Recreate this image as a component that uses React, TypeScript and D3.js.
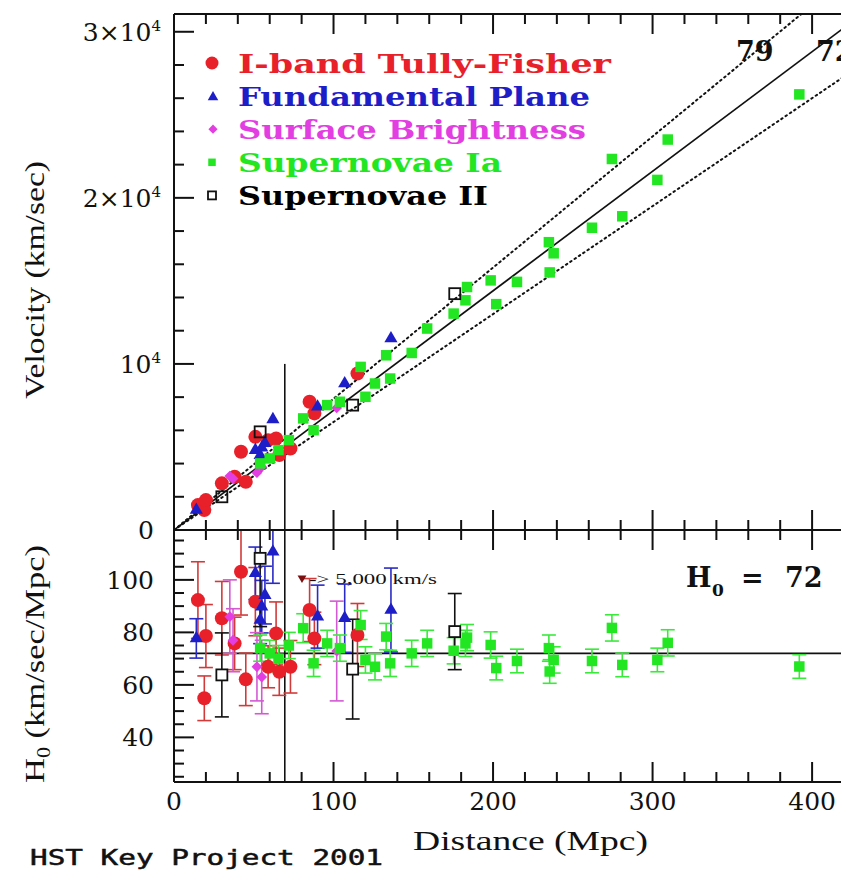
import React from "react";
import * as d3 from "d3";

// ---------------- data ----------------
// I-band Tully-Fisher
const tfDist = [15, 19, 20, 30, 38, 42, 45, 51, 59, 64, 66, 73, 85, 88, 115];
const tfVel = [1500, 1200, 1800, 2810, 3210, 4710, 2900, 5610, 5410, 5510, 4510, 4910, 7720, 7020, 9420];
const tfH0 = [92.3, 54.9, 78.6, 85.4, 75.8, 103.1, 62.1, 91.7, 66.9, 79.6, 65, 66.9, 88.5, 77.7, 79];
const tfErr = [14.6, 8.5, 12, 14, 10, 16.5, 10, 13, 8, 12, 9, 10, 12, 10, 12];

// Fundamental Plane
const fpDist = [14, 51, 54, 55, 57, 62, 90, 107, 136];
const fpVel = [1200, 4810, 4500, 4950, 5230, 6660, 7420, 8820, 11530];
const fpH0 = [77.7, 102.5, 84.7, 89.8, 94.2, 110.7, 86, 85.4, 88.5];
const fpErr = [7.5, 10, 9, 10, 11, 12, 12, 13, 16];

// Surface Brightness
const sbfDist = [35, 37, 52, 55, 102];
const sbfVel = [3250, 3100, 3450, 3800, 7350];
const sbfH0 = [86, 77, 66.9, 63, 72.9];
const sbfErr = [14, 12, 13, 14, 19];

// Supernovae Ia
const snDist = [54, 60, 65.5, 72, 81, 87.5, 96, 104, 117, 120, 126, 133, 135.5, 149, 158.7, 175.3, 182.7, 183.7, 198.5, 202, 215, 235, 238, 235.5, 262, 274.5, 281, 303, 309.5, 392];
const snVel = [4010, 4310, 4810, 5410, 6720, 6010, 7520, 7720, 9820, 8020, 8820, 10520, 9120, 10660, 12130, 13030, 13830, 14630, 15030, 13600, 14940, 17330, 16660, 15510, 18200, 22340, 18890, 21080, 23510, 26230];
const snH0 = [74, 72, 70, 75, 81.6, 68.2, 75.8, 74, 82.8, 69.5, 66.9, 78.4, 68.2, 72, 75.8, 73, 75.8, 78, 75.2, 66.4, 69.1, 74, 69.5, 65.1, 69.1, 81.7, 67.6, 69.5, 76, 67];
const snErr = [5, 5, 5, 5, 5.5, 5, 5, 5, 5.5, 5, 5, 5, 5, 5, 5, 5, 5, 5, 5, 4.5, 4.5, 5, 5, 4.5, 4.5, 5, 4.5, 4.5, 5, 4.5];

// Supernovae II
const sn2Dist = [30, 54, 112, 176];
const sn2Vel = [2000, 5910, 7520, 14230];
const sn2H0 = [63.8, 108.2, 66, 80.3];
const sn2Err = [16, 26, 19, 14.5];

// Hubble-law lines
const hubbleFit = 72;
const hubbleBand = [79, 65];
const velocityCut = 5000;

// tick labels
const xTickLabels = ["0", "100", "200", "300", "400"];
const xTickValues = [0, 100, 200, 300, 400];
const vTickValues = [30000, 20000, 10000, 0];
const vTickMant = ["3×10", "2×10", "10", "0"];
const hTickValues = [100, 80, 60, 40];

const legendLabels = [
  "I-band Tully-Fisher",
  "Fundamental Plane",
  "Surface Brightness",
  "Supernovae Ia",
  "Supernovae II",
];

const RED = "#e8202a";
const RED_BAR = "#d23a3a";
const BLUE = "#1e1ec8";
const BLUE_BAR = "#2a2ac4";
const MAG = "#e23ee2";
const MAG_BAR = "#d35ad3";
const GREEN = "#22e622";
const GREEN_BAR = "#3aea3a";

const SERIF = "'DejaVu Serif', serif";
const TSERIF = "'Liberation Serif', 'Times New Roman', serif";

export default function App() {
  const xS = d3.scaleLinear().domain([0, 420]).range([174, 844]);
  const yV = d3.scaleLinear().domain([0, 31070]).range([530, 14]);
  const yH = d3.scaleLinear().domain([23, 119]).range([782, 530]);

  const tri = d3.symbol().type(d3.symbolTriangle).size(75)()!;
  const triL = d3.symbol().type(d3.symbolTriangle).size(48)()!;
  const dia = d3.symbol().type(d3.symbolSquare).size(58)()!;
  const diaL = d3.symbol().type(d3.symbolSquare).size(42)()!;
  const downTri = d3.symbol().type(d3.symbolTriangle).size(34)()!;

  const xTicks = d3.range(0, 421, 20);
  const vTicks = d3.range(0, 31001, 2000);
  const hTicks = d3.range(25, 119, 5);

  const sq = (cx: number, cy: number, s: number, fill: string, stroke?: string, key?: string) => (
    <rect key={key} x={cx - s / 2} y={cy - s / 2} width={s} height={s} fill={fill}
      stroke={stroke || "none"} strokeWidth={stroke ? 1.8 : 0} />
  );

  const errBars = (dist: number[], h0: number[], err: number[], color: string, k: string) =>
    dist.map((d, i) => {
      const x = xS(d);
      const y1 = yH(h0[i] + err[i]);
      const y2 = yH(h0[i] - err[i]);
      return (
        <g key={k + i} stroke={color} strokeWidth={1.6}>
          <line x1={x} x2={x} y1={y1} y2={y2} />
          <line x1={x - 7} x2={x + 7} y1={y1} y2={y1} />
          <line x1={x - 7} x2={x + 7} y1={y2} y2={y2} />
        </g>
      );
    });

  const lineEnd = (h: number) => Math.min(420, 31070 / h);

  const hubbleLine = (h: number, dashed: boolean) => {
    const dEnd = lineEnd(h);
    const path = d3.line<[number, number]>().x((p) => xS(p[0])).y((p) => yV(p[1]))([
      [0, 0],
      [dEnd, dEnd * h],
    ])!;
    return (
      <path key={"h" + h} d={path} fill="none" stroke="#111" strokeWidth={dashed ? 2 : 1.7}
        strokeDasharray={dashed ? "1.6,3.6" : undefined} strokeLinecap={dashed ? "round" : "butt"} />
    );
  };

  const legendY = [72.5, 105.6, 138.7, 171.8, 204.9];
  const legendColors = [RED, BLUE, MAG, GREEN, "#000"];
  const legendLens = [373, 352, 348, 264, 250];

  const dCut = velocityCut / hubbleFit;

  return (
    <svg width={841} height={870} style={{ position: "absolute", left: 0, top: 0, display: "block", background: "#fff" }}>
      <defs>
        <clipPath id="cu"><rect x={174} y={14} width={670} height={516} /></clipPath>
        <clipPath id="cl"><rect x={174} y={530} width={670} height={252} /></clipPath>
      </defs>
      <rect x={0} y={0} width={841} height={870} fill="#fff" />

      {/* ---------- upper panel ---------- */}
      <g clipPath="url(#cu)">
        {hubbleLine(hubbleFit, false)}
        {hubbleBand.map((h) => hubbleLine(h, true))}
        <line x1={xS(dCut)} x2={xS(dCut)} y1={yV(10000)} y2={530} stroke="#111" strokeWidth={1.6} />
        {tfDist.map((d, i) => <circle key={"tf" + i} cx={xS(d)} cy={yV(tfVel[i])} r={7} fill={RED} />)}
        {fpDist.map((d, i) => <path key={"fp" + i} d={tri} transform={`translate(${xS(d)},${yV(fpVel[i])})`} fill={BLUE} />)}
        {sbfDist.map((d, i) => <path key={"sb" + i} d={dia} transform={`translate(${xS(d)},${yV(sbfVel[i])}) rotate(45)`} fill={MAG} />)}
        {snDist.map((d, i) => sq(xS(d), yV(snVel[i]), 10.5, GREEN, undefined, "sn" + i))}
        {sn2Dist.map((d, i) => sq(xS(d), yV(sn2Vel[i]), 11, "none", "#111", "s2" + i))}
      </g>

      {/* ---------- lower panel ---------- */}
      <g clipPath="url(#cl)">
        <line x1={174} x2={844} y1={yH(hubbleFit)} y2={yH(hubbleFit)} stroke="#111" strokeWidth={1.8} />
        <line x1={xS(dCut)} x2={xS(dCut)} y1={530} y2={782} stroke="#111" strokeWidth={1.6} />
        {errBars(tfDist, tfH0, tfErr, RED_BAR, "etf")}
        {errBars(fpDist, fpH0, fpErr, BLUE_BAR, "efp")}
        {errBars(sbfDist, sbfH0, sbfErr, MAG_BAR, "esb")}
        {errBars(snDist, snH0, snErr, GREEN_BAR, "esn")}
        {errBars(sn2Dist, sn2H0, sn2Err, "#111", "es2")}
        {tfDist.map((d, i) => <circle key={"ltf" + i} cx={xS(d)} cy={yH(tfH0[i])} r={7} fill={RED} />)}
        {fpDist.map((d, i) => <path key={"lfp" + i} d={tri} transform={`translate(${xS(d)},${yH(fpH0[i])})`} fill={BLUE} />)}
        {sbfDist.map((d, i) => <path key={"lsb" + i} d={dia} transform={`translate(${xS(d)},${yH(sbfH0[i])}) rotate(45)`} fill={MAG} />)}
        {snDist.map((d, i) => sq(xS(d), yH(snH0[i]), 10.5, GREEN, undefined, "lsn" + i))}
        {sn2Dist.map((d, i) => sq(xS(d), yH(sn2H0[i]), 11, "#fff", "#111", "ls2" + i))}
      </g>

      {/* ---------- frame ---------- */}
      <g stroke="#111" strokeWidth={2} fill="none">
        <line x1={174} x2={844} y1={14} y2={14} />
        <line x1={174} x2={844} y1={530} y2={530} />
        <line x1={174} x2={844} y1={782} y2={782} />
        <line x1={174} x2={174} y1={14} y2={782} />
        {xTicks.map((t) => {
          const L = t % 100 === 0 ? 20 : 10;
          const x = xS(t);
          return (
            <g key={"xt" + t}>
              <line x1={x} x2={x} y1={14} y2={14 + L} />
              <line x1={x} x2={x} y1={530 - L} y2={530 + L} />
              <line x1={x} x2={x} y1={782} y2={782 - L} />
            </g>
          );
        })}
        {vTicks.map((t) => {
          const L = t % 10000 === 0 ? 20 : 10;
          return <line key={"vt" + t} x1={174} x2={174 + L} y1={yV(t)} y2={yV(t)} />;
        })}
        {hTicks.map((t) => {
          const L = t % 20 === 0 ? 20 : 10;
          return <line key={"ht" + t} x1={174} x2={174 + L} y1={yH(t)} y2={yH(t)} />;
        })}
      </g>

      {/* ---------- tick labels ---------- */}
      <g fontFamily={SERIF} fontSize={25} fill="#111">
        {xTickValues.map((v, i) => (
          <text key={"xl" + i} x={xS(v)} y={810} textAnchor="middle">{xTickLabels[i]}</text>
        ))}
        {vTickValues.map((v, i) => (
          <text key={"vl" + i} x={v === 0 ? 154 : 161} y={yV(v) + 9} textAnchor="end">
            {vTickMant[i]}
            {v !== 0 && <tspan dy={-10} fontSize={15}>4</tspan>}
          </text>
        ))}
        {hTickValues.map((v, i) => (
          <text key={"hl" + i} x={154} y={yH(v) + 9} textAnchor="end">{String(v)}</text>
        ))}
      </g>

      {/* ---------- axis titles ---------- */}
      <text transform="translate(44,280) rotate(-90)" textAnchor="middle" fontFamily={TSERIF} fontSize={28}
        textLength={238} lengthAdjust="spacingAndGlyphs" fill="#111">Velocity (km/sec)</text>
      <text transform="translate(44,664) rotate(-90)" textAnchor="middle" fontFamily={TSERIF} fontSize={28}
        textLength={238} lengthAdjust="spacingAndGlyphs" fill="#111">
        H<tspan dy={6} fontSize={18}>0</tspan><tspan dy={-6}> (km/sec/Mpc)</tspan>
      </text>
      <text x={413} y={850} fontFamily={TSERIF} fontSize={28} textLength={235} lengthAdjust="spacingAndGlyphs" fill="#111">Distance (Mpc)</text>
      <text x={30} y={865} fontFamily="'DejaVu Sans Mono', monospace" fontSize={21} stroke="#111" strokeWidth={0.5}
        textLength={353} lengthAdjust="spacingAndGlyphs" fill="#111">HST Key Project 2001</text>

      {/* ---------- legend ---------- */}
      <circle cx={212} cy={legendY[0] - 9.5} r={6.5} fill={RED} />
      <path d={triL} transform={`translate(213,${legendY[1] - 8.5})`} fill={BLUE} />
      <path d={diaL} transform={`translate(213,${legendY[2] - 9.5}) rotate(45)`} fill={MAG} />
      {sq(212, legendY[3] - 9.5, 7.5, GREEN)}
      {sq(212, legendY[4] - 9.5, 8, "none", "#111")}
      {legendLabels.map((l, i) => (
        <text key={"lg" + i} x={238} y={legendY[i]} fontFamily={SERIF} fontWeight="bold" fontSize={26}
          fill={legendColors[i]} textLength={legendLens[i]} lengthAdjust="spacingAndGlyphs">{l}</text>
      ))}

      {/* ---------- annotations ---------- */}
      <text x={736} y={61} fontFamily={SERIF} fontWeight="bold" fontSize={27} fill="#111">{String(hubbleBand[0])}</text>
      <text x={816} y={61} fontFamily={SERIF} fontWeight="bold" fontSize={27} fill="#111">{String(hubbleFit)}</text>

      <g fontFamily={SERIF} fontWeight="bold" fill="#111">
        <text x={686} y={587} fontSize={27}>H</text>
        <text x={712} y={596} fontSize={17}>0</text>
        <text x={741} y={587} fontSize={27}>=</text>
        <text x={785} y={587} fontSize={27}>{String(hubbleFit)}</text>
      </g>

      <path d={downTri} transform={`translate(302,578) rotate(180)`} fill="#7a1010" />
      <text x={309} y={584} fontFamily={TSERIF} fontSize={15} textLength={128} lengthAdjust="spacingAndGlyphs" fill="#111">
        {"-> 5,000 km/s"}
      </text>
    </svg>
  );
}
